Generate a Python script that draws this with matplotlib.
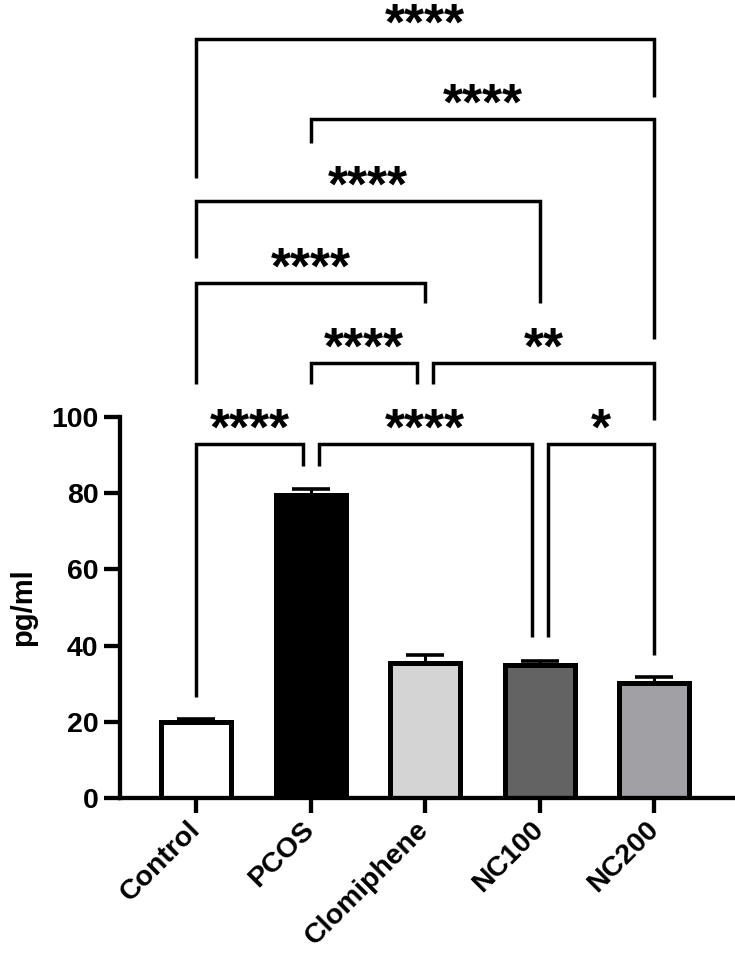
import matplotlib
matplotlib.use("Agg")
from matplotlib import pyplot as plt

plt.rcParams['font.family'] = ['Liberation Sans', 'DejaVu Sans']
plt.rcParams['font.weight'] = 'bold'

groups = ["Control", "PCOS", "Clomiphene", "NC100", "NC200"]
means = [20.0, 79.5, 35.4, 34.9, 30.3]
sem = [0.7, 1.6, 2.1, 1.1, 1.4]
colors = ["#ffffff", "#000000", "#d4d4d4", "#636363", "#a1a1a5"]

# comparisons: (group a, group b, label, bracket level, leg end a, leg end b, shift a, shift b)
comparisons = [
    (0, 4, "****", 199.2, 162.7, 184.0, 0, 0),
    (1, 4, "****", 178.2, 171.9, 120.5, 0, 0),
    (0, 3, "****", 156.7, 141.7, 129.9, 0, 0),
    (0, 2, "****", 135.2, 108.7, 129.9, 0, 0),
    (1, 2, "****", 114.2, 108.7, 108.7, 0, -0.07),
    (2, 4, "**", 114.2, 108.7, 99.2, 0.07, 0),
    (0, 1, "****", 92.9, 26.5, 87.1, 0, -0.07),
    (1, 3, "****", 92.9, 87.1, 42.3, 0.07, -0.07),
    (3, 4, "*", 92.9, 42.3, 37.5, 0.07, 0),
]

fig = plt.figure(figsize=(7.35, 9.56), dpi=100)
ax = fig.add_axes([120 / 735, 1 - 798 / 956, (735 - 120) / 735, 381 / 956])

x = list(range(len(groups)))
ax.errorbar(x, means, yerr=[[0] * len(sem), sem], fmt='none', ecolor='black',
            elinewidth=2.2, capsize=13.5, capthick=2.6, zorder=1)
ax.bar(x, means, width=0.61, color=colors, edgecolor='black', linewidth=3.6, zorder=2)

for a, b, label, lev, ea, eb, sa, sb in comparisons:
    xa = a + sa
    xb = b + sb
    ax.plot([xa, xa, xb, xb], [ea, lev, lev, eb], color='black', lw=2.5,
            solid_capstyle='butt', solid_joinstyle='miter', clip_on=False, zorder=3)
    ax.annotate(label, xy=((xa + xb) / 2, lev), xytext=(0, -0.5), textcoords='offset points',
                ha='center', va='baseline', fontsize=37, fontweight='bold',
                annotation_clip=False)

ax.set_xlim(-0.665, 4.705)
ax.set_ylim(0, 100)
ax.set_yticks([0, 20, 40, 60, 80, 100])
ax.set_xticks(x)
ax.set_xticklabels(groups, rotation=45, ha='right', va='center', rotation_mode='anchor',
                   fontsize=20.5, fontweight='bold')
ax.tick_params(axis='y', length=11.5, width=3.1, pad=4, labelsize=20.5)
ax.tick_params(axis='x', length=11, width=3.1, pad=9)
for lab in ax.get_yticklabels():
    lab.set_fontweight('bold')

ax.spines['top'].set_visible(False)
ax.spines['right'].set_visible(False)
ax.spines['left'].set_linewidth(3.1)
ax.spines['bottom'].set_linewidth(3.1)

ax.set_ylabel("pg/ml", fontsize=21, fontweight='bold', labelpad=10)

fig.savefig("out.png", dpi=100)
